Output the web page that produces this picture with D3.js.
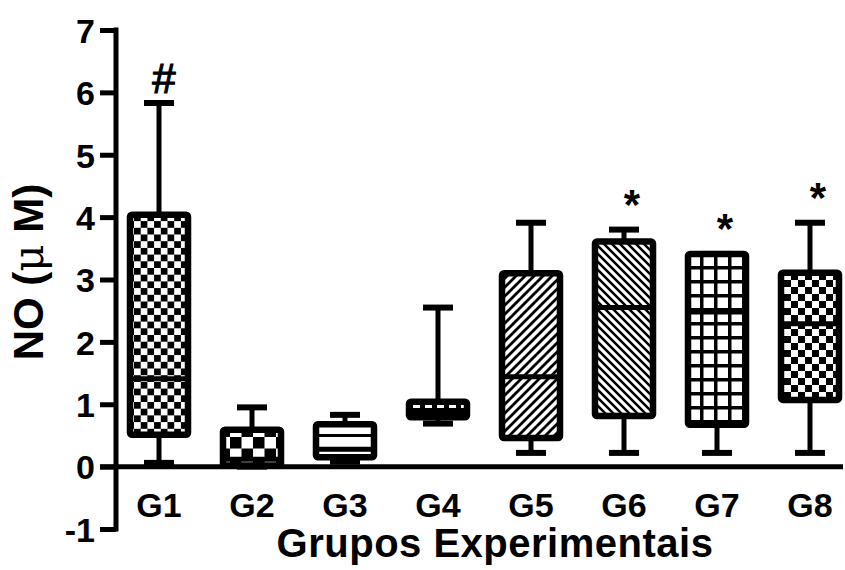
<!DOCTYPE html>
<html>
<head>
<meta charset="utf-8">
<script src="https://cdn.jsdelivr.net/npm/d3@7/dist/d3.min.js"></script>
<style>
  html, body { margin: 0; padding: 0; background: #fff; }
  svg { display: block; }
  text { font-family: "Liberation Sans", Arial, sans-serif; fill: #000; }
</style>
</head>
<body>
<div id="chart"></div>
<script>
// Nitric oxide concentration per experimental group (box-and-whisker summary)
const groups   = ["G1", "G2", "G3", "G4", "G5", "G6", "G7", "G8"];
const minVals  = [0.06, 0.00, 0.08, 0.69, 0.22, 0.22, 0.22, 0.22];
const q1Vals   = [0.51, 0.02, 0.15, 0.79, 0.46, 0.81, 0.67, 1.07];
const medVals  = [1.41, 0.12, 0.28, 0.84, 1.44, 2.55, 2.48, 2.29];
const q3Vals   = [4.04, 0.59, 0.68, 1.04, 3.10, 3.61, 3.41, 3.11];
const maxVals  = [5.83, 0.95, 0.83, 2.55, 3.91, 3.80, 3.41, 3.91];
const marks    = ["#", "", "", "", "", "*", "*", "*"];
const yTicks   = [-1, 0, 1, 2, 3, 4, 5, 6, 7];
const yTitle   = "NO (";
const yUnit    = "μ";
const yTitleEnd = " M)";
const xTitle   = "Grupos Experimentais";

const W = 845, H = 570;
const svg = d3.select("#chart").append("svg").attr("width", W).attr("height", H);

const x = d3.scalePoint().domain(groups).range([159, 810]);
const y = d3.scaleLinear().domain([-1, 7]).range([529, 30]);

// ---- fill patterns, one per group ----
const defs = svg.append("defs");
function pat(id, w, h) {
  const p = defs.append("pattern").attr("id", id)
    .attr("patternUnits", "userSpaceOnUse").attr("width", w).attr("height", h);
  p.append("rect").attr("width", w).attr("height", h).attr("fill", "#fff");
  return p;
}
function checker(id, c) {
  const p = pat(id, 2 * c, 2 * c);
  p.append("rect").attr("width", c).attr("height", c).attr("fill", "#000");
  p.append("rect").attr("x", c).attr("y", c).attr("width", c).attr("height", c).attr("fill", "#000");
}
function grid(id, s, t) {
  const p = pat(id, s, s);
  p.append("rect").attr("width", s).attr("height", t).attr("fill", "#000");
  p.append("rect").attr("width", t).attr("height", s).attr("fill", "#000");
}
checker("p0", 6.7);
checker("p1", 11.5);
{ const p = pat("p2", 10, 14); p.append("rect").attr("y", 0).attr("width", 10).attr("height", 3).attr("fill", "#000"); }
grid("p3", 12, 5);
{ const p = pat("p4", 9, 9);
  p.append("path").attr("d", "M-1,10 L10,-1 M-3,3 L3,-3 M6,12 L12,6").attr("stroke", "#000").attr("stroke-width", 2.8); }
{ const p = pat("p5", 8, 8);
  p.append("path").attr("d", "M-1,-1 L9,9 M-3,5 L3,11 M5,-3 L11,3").attr("stroke", "#000").attr("stroke-width", 2.5); }
grid("p6", 14, 3.5);
checker("p7", 7);

// ---- axes ----
const axisW = 5;
const yAxis = d3.axisLeft(y).tickValues(yTicks).tickSize(16).tickPadding(8).tickFormat(d => String(d));
const gy = svg.append("g").attr("transform", "translate(116,0)").call(yAxis);
gy.select(".domain").remove();
gy.selectAll(".tick line").attr("stroke", "#000").attr("stroke-width", axisW);
gy.selectAll(".tick text").attr("font-size", 34).attr("font-weight", "bold")
  .attr("dy", "0.36em").attr("x", -21);
svg.append("line").attr("x1", 116).attr("x2", 116)
  .attr("y1", y(7) - axisW / 2).attr("y2", y(-1) + axisW / 2)
  .attr("stroke", "#000").attr("stroke-width", axisW);
svg.append("line").attr("x1", 100).attr("x2", 843)
  .attr("y1", y(0)).attr("y2", y(0))
  .attr("stroke", "#000").attr("stroke-width", axisW);

// ---- boxes ----
const boxW = 58, capW = 30;
const data = groups.map((g, i) => ({
  g, i, min: minVals[i], q1: q1Vals[i], med: medVals[i], q3: q3Vals[i], max: maxVals[i], mark: marks[i]
}));
const gb = svg.append("g").selectAll("g").data(data).join("g");

// whiskers
gb.append("line").attr("x1", d => x(d.g)).attr("x2", d => x(d.g))
  .attr("y1", d => y(d.max)).attr("y2", d => y(d.min))
  .attr("stroke", "#000").attr("stroke-width", 5);
gb.append("line").attr("x1", d => x(d.g) - capW / 2).attr("x2", d => x(d.g) + capW / 2)
  .attr("y1", d => y(d.max)).attr("y2", d => y(d.max))
  .attr("stroke", "#000").attr("stroke-width", 6);
gb.append("line").attr("x1", d => x(d.g) - capW / 2).attr("x2", d => x(d.g) + capW / 2)
  .attr("y1", d => y(d.min)).attr("y2", d => y(d.min))
  .attr("stroke", "#000").attr("stroke-width", 6);

// box body
gb.append("rect")
  .attr("x", d => x(d.g) - boxW / 2).attr("width", boxW)
  .attr("y", d => y(d.q3)).attr("height", d => y(d.q1) - y(d.q3))
  .attr("rx", 2)
  .attr("fill", d => `url(#p${d.i})`)
  .attr("stroke", "#000").attr("stroke-width", 6.5).attr("stroke-linejoin", "round");
// median
gb.append("line").attr("x1", d => x(d.g) - boxW / 2).attr("x2", d => x(d.g) + boxW / 2 + 2)
  .attr("y1", d => y(d.med)).attr("y2", d => y(d.med))
  .attr("stroke", "#000").attr("stroke-width", 5);

// significance marks
gb.filter(d => d.mark === "*").append("text")
  .attr("x", d => x(d.g) + 8).attr("y", d => y(d.max) - 33 + 22)
  .attr("text-anchor", "middle").attr("font-size", 42).attr("font-weight", "bold")
  .text(d => d.mark);
gb.filter(d => d.mark === "#").append("text")
  .attr("x", d => x(d.g) + 5).attr("y", d => y(d.max) - 25 + 15)
  .attr("text-anchor", "middle").attr("font-size", 42)
  .attr("stroke", "#000").attr("stroke-width", 1.2)
  .text(d => d.mark);

// group labels
svg.append("g").selectAll("text").data(groups).join("text")
  .attr("x", d => x(d)).attr("y", 517)
  .attr("text-anchor", "middle").attr("font-size", 34).attr("font-weight", "bold")
  .text(d => d);

// axis titles
svg.append("text").attr("x", 495).attr("y", 557)
  .attr("text-anchor", "middle").attr("font-size", 40).attr("font-weight", "bold")
  .attr("letter-spacing", 0.5)
  .text(xTitle);
const yt = svg.append("text").attr("transform", "translate(43,272) rotate(-90)")
  .attr("text-anchor", "middle").attr("font-size", 42).attr("font-weight", "bold");
yt.append("tspan").text(yTitle);
yt.append("tspan").attr("font-weight", "normal").attr("font-family", "DejaVu Serif, serif").text(yUnit);
yt.append("tspan").text(yTitleEnd);
</script>
</body>
</html>
